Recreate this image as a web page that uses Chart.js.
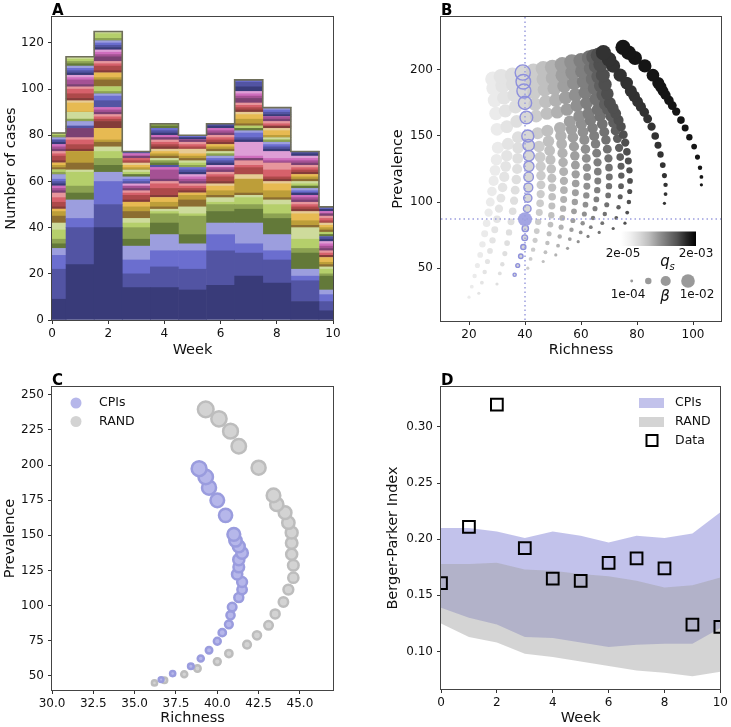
<!DOCTYPE html>
<html>
<head>
<meta charset="utf-8">
<script src="https://cdn.jsdelivr.net/npm/chart.js@4/dist/chart.umd.min.js"></script>
<style>
  body { margin: 0; background: #fff; width: 731px; height: 727px; position: relative; overflow: hidden; }
  canvas { position: absolute; }
</style>
</head>
<body>
<canvas id="cA" width="365" height="363" style="left:0;top:0"></canvas>
<canvas id="cB" width="366" height="363" style="left:365px;top:0"></canvas>
<canvas id="cC" width="365" height="364" style="left:0;top:363px"></canvas>
<canvas id="cD" width="366" height="364" style="left:365px;top:363px"></canvas>
<script>
// ---------- panel A: weekly case counts per species (stacked) ----------
var weeks = [0, 1, 2, 3, 4, 5, 6, 7, 8, 9, 10];
var speciesCounts = [
  [9, 24, 40, 14, 14, 13, 15, 19, 16, 8, 4],
  [13, 16, 10, 6, 9, 9, 15, 10, 10, 9, 4],
  [6, 4, 10, 6, 7, 8, 7, 4, 4, 2, 3],
  [3, 8, 4, 6, 7, 3, 5, 9, 7, 3, 2],
  [2, 3, 3, 3, 5, 4, 5, 6, 7, 7, 6],
  [2, 3, 3, 5, 4, 8, 3, 2, 2, 2, 1],
  [4, 6, 3, 2, 1, 1, 1, 3, 4, 4, 2],
  [3, 1, 2, 2, 1, 3, 2, 1, 2, 5, 1],
  [3, 3, 2, 3, 1, 3, 1, 1, 1, 1, 1],
  [2, 5, 1, 2, 2, 2, 2, 6, 3, 2, 1],
  [1, 0, 5, 2, 2, 1, 2, 0, 3, 3, 2],
  [0, 0, 0, 0, 0, 0, 1, 2, 1, 1, 0],
  [1, 1, 3, 1, 1, 1, 1, 0, 1, 1, 1],
  [2, 2, 1, 2, 3, 1, 2, 3, 1, 1, 0],
  [2, 2, 1, 1, 2, 1, 1, 1, 3, 1, 1],
  [2, 1, 1, 1, 1, 1, 1, 2, 3, 1, 1],
  [1, 4, 1, 1, 1, 1, 1, 1, 0, 1, 1],
  [1, 0, 1, 1, 4, 1, 1, 0, 1, 1, 1],
  [1, 0, 1, 0, 1, 1, 0, 1, 1, 1, 1],
  [0, 0, 0, 1, 0, 1, 1, 6, 3, 0, 1],
  [1, 0, 0, 0, 0, 1, 1, 1, 1, 1, 1],
  [1, 1, 3, 1, 1, 1, 1, 1, 1, 0, 1],
  [1, 0, 2, 1, 0, 1, 1, 2, 1, 1, 0],
  [2, 2, 1, 1, 0, 0, 1, 1, 1, 1, 0],
  [0, 0, 0, 1, 1, 0, 0, 1, 0, 1, 1],
  [1, 1, 1, 0, 1, 1, 1, 0, 1, 0, 0],
  [1, 0, 2, 1, 0, 1, 0, 1, 0, 1, 1],
  [0, 3, 0, 1, 1, 1, 1, 0, 1, 1, 0],
  [1, 0, 3, 0, 1, 1, 1, 1, 0, 1, 1],
  [1, 0, 1, 1, 1, 1, 1, 2, 1, 1, 1],
  [1, 4, 2, 1, 1, 1, 1, 2, 2, 1, 1],
  [0, 1, 0, 1, 1, 2, 0, 1, 1, 0, 1],
  [1, 1, 1, 0, 1, 0, 1, 1, 1, 1, 0],
  [2, 2, 2, 1, 1, 1, 1, 1, 0, 1, 1],
  [1, 2, 1, 1, 1, 1, 1, 1, 1, 1, 1],
  [1, 1, 1, 0, 1, 1, 1, 1, 1, 1, 1],
  [1, 1, 2, 1, 1, 1, 1, 2, 1, 1, 1],
  [1, 2, 1, 0, 0, 0, 1, 1, 1, 1, 0],
  [1, 1, 1, 1, 1, 0, 1, 1, 0, 1, 1],
  [0, 1, 1, 0, 0, 0, 0, 1, 0, 1, 0],
  [1, 1, 1, 0, 1, 1, 1, 2, 1, 1, 1],
  [1, 1, 1, 1, 1, 0, 1, 2, 1, 1, 0],
  [0, 1, 1, 0, 1, 1, 0, 1, 1, 0, 1],
  [1, 1, 1, 0, 0, 0, 0, 0, 1, 0, 0],
  [0, 1, 0, 0, 1, 0, 0, 0, 0, 0, 0],
  [1, 1, 1, 0, 1, 0, 0, 0, 0, 0, 0],
  [1, 1, 2, 0, 0, 0, 0, 0, 0, 0, 0],
  [0, 1, 1, 0, 0, 0, 0, 0, 0, 0, 0]
];
var tab20b = ['#393b79', '#5254a3', '#6b6ecf', '#9c9ede', '#637939', '#8ca252', '#b5cf6b', '#cedb9c',
  '#8c6d31', '#bd9e39', '#e7ba52', '#e7cb94', '#843c39', '#ad494a', '#d6616b', '#e7969c',
  '#7b4173', '#a55194', '#ce6dbd', '#de9ed6'];

// ---------- panel B: model grid, one column per q_s, one point per beta ----------
var qsValues = [4e-5, 4.8e-5, 5.5e-5, 6.6e-5, 8.3e-5, 1.05e-4, 1.32e-4, 1.74e-4, 2.2e-4, 2.9e-4, 3.6e-4, 5e-4, 6.6e-4, 9.5e-4, 1.45e-3];
var betaValues = [1e-4, 1.27e-4, 1.62e-4, 2.07e-4, 2.64e-4, 3.36e-4, 4.28e-4, 5.46e-4, 6.95e-4, 8.86e-4,
  1.13e-3, 1.44e-3, 1.83e-3, 2.34e-3, 2.98e-3, 3.79e-3, 4.83e-3, 6.16e-3, 7.85e-3, 1e-2];
var colPrev = [
  [28, 36, 44, 52, 60, 68, 76, 84, 92, 100, 108, 116, 124, 132, 141, 155, 167, 177, 186, 193],
  [31, 39, 47, 55, 63, 71, 79, 87, 95, 103, 111, 119, 127, 135, 144, 157, 169, 179, 188, 195],
  [38, 46, 53, 61, 69, 77, 85, 93, 101, 109, 117, 125, 133, 141, 149, 161, 172, 181, 189, 196],
  [45, 52, 59, 66, 73, 80, 87, 95, 103, 111, 119, 127, 135, 143, 150, 164, 175, 184, 191, 198],
  [50, 57, 64, 71, 78, 85, 92, 99, 106, 113, 120, 127, 134, 142, 152, 165, 174, 183, 191, 199],
  [55, 62, 69, 76, 83, 90, 97, 104, 111, 118, 125, 132, 139, 146, 154, 167, 176, 185, 193, 201],
  [60, 67, 74, 81, 88, 95, 102, 109, 116, 123, 130, 137, 144, 150, 156, 168, 177, 186, 194, 202],
  [65, 72, 79, 86, 93, 100, 107, 114, 121, 128, 135, 142, 149, 155, 161, 170, 179, 188, 196, 204],
  [70, 77, 84, 91, 98, 105, 112, 119, 126, 133, 140, 147, 153, 159, 165, 173, 181, 190, 198, 206],
  [74, 81, 88, 95, 102, 109, 116, 123, 130, 137, 144, 150, 156, 162, 167, 175, 183, 191, 199, 207],
  [77, 84, 91, 98, 105, 112, 119, 126, 133, 140, 147, 153, 159, 165, 170, 178, 186, 193, 201, 209],
  [80, 88, 96, 104, 112, 120, 127, 134, 141, 148, 154, 160, 165, 170, 174, 181, 188, 195, 203, 210],
  [84, 92, 100, 108, 116, 124, 131, 138, 145, 151, 157, 162, 167, 171, 175, 182, 189, 196, 204, 211],
  [99, 106, 113, 120, 128, 136, 143, 150, 157, 163, 168, 172, 176, 180, 184, 190, 196, 203, 208, 213],
  [113, 119, 126, 134, 142, 149, 156, 162, 168.5, 173, 177, 181, 184, 187, 190, 196, 203, 209, 213, 217]
];
var colRich = [
  [20, 21, 22, 23, 24, 24.8, 25.6, 26.3, 27, 27.6, 28.2, 28.8, 29.3, 29.8, 30.3, 30, 29.6, 29.2, 28.8, 28.5],
  [23.5, 24.6, 25.6, 26.6, 27.5, 28.4, 29.2, 30, 30.7, 31.4, 32, 32.6, 33.1, 33.5, 33.9, 33.5, 33, 32.5, 32, 31.5],
  [30, 31, 31.9, 32.8, 33.6, 34.3, 35, 35.6, 36.1, 36.5, 36.9, 37.2, 37.4, 37.5, 37.5, 37, 36.6, 36.2, 35.8, 35.5],
  [36.3, 37.4, 38.5, 39.4, 39.9, 40.1, 40.2, 40.8, 41, 41.2, 41.3, 41.4, 41.4, 41.3, 41, 40.5, 40, 39.6, 39.4, 39.2],
  [41, 42, 42.9, 43.6, 44.2, 44.7, 45.1, 45.4, 45.6, 45.7, 45.7, 45.6, 45.4, 45, 44.5, 44, 43.6, 43.3, 43, 43],
  [46.5, 47.3, 48, 48.6, 49.1, 49.4, 49.6, 49.7, 49.7, 49.6, 49.4, 49.1, 48.8, 48.4, 48, 47.8, 47.4, 47, 46.7, 46.5],
  [51, 51.8, 52.4, 52.9, 53.3, 53.6, 53.8, 53.9, 53.9, 53.8, 53.6, 53.4, 53.1, 52.8, 52.5, 51.5, 51, 50.5, 50, 49.8],
  [55.2, 56, 56.6, 57.1, 57.5, 57.8, 58, 58.1, 58.1, 58, 57.8, 57.5, 57.1, 56.6, 56, 55, 54.5, 54, 53.5, 53.3],
  [59, 59.9, 60.6, 61.2, 61.6, 61.9, 62.1, 62.2, 62.1, 61.9, 61.6, 61.2, 60.7, 60.1, 59.4, 58.5, 58, 57.5, 57, 56.7],
  [62.5, 63.5, 64.3, 65, 65.5, 65.8, 66, 66, 65.9, 65.6, 65.2, 64.7, 64.1, 63.4, 62.7, 62, 61.5, 61, 60.5, 60],
  [66.5, 67.6, 68.5, 69.2, 69.7, 70, 70.1, 70, 69.8, 69.4, 68.9, 68.3, 67.6, 66.8, 66, 65.3, 64.8, 64.2, 63.6, 63],
  [71.5, 72.6, 73.4, 74, 74.3, 74.4, 74.3, 74, 73.6, 73, 72.3, 71.5, 70.6, 69.6, 68.6, 67.8, 67, 66.2, 65.4, 64.6],
  [75.7, 76.5, 77.1, 77.4, 77.5, 77.3, 76.9, 76.4, 75.8, 75.1, 74.3, 73.4, 72.4, 71.4, 70.3, 69.4, 68.6, 67.8, 67, 66.2],
  [89.8, 90.2, 90.2, 89.8, 89.2, 88.4, 87.5, 86.5, 85.2, 83.8, 82.6, 81.4, 80.2, 79, 77.8, 76.3, 74, 71.5, 70, 68],
  [103, 103, 102.5, 101.6, 100.4, 98.7, 97.2, 95.7, 94, 92.6, 91.4, 90.2, 89.3, 88.5, 87.6, 85.7, 82.8, 79.3, 77, 75]
];
var cpiColumn = 3;
var selRichness = 40;
var selPrevalence = 87;
var legendBeta = [1e-4, 4.6e-4, 2.2e-3, 1e-2];

// ---------- panel C: CPIs vs RAND ----------
var cpiRich = [36.6, 37.3, 38.4, 39.0, 39.5, 40.0, 40.3, 40.7, 40.8, 40.9, 41.3, 41.5, 41.5, 41.2, 41.3, 41.3, 41.5, 41.3, 41.1, 41.0, 40.5, 40.0, 39.5, 39.3, 38.9];
var cpiPrev = [47.4, 51.7, 56.9, 62.4, 68.3, 74.7, 80.8, 86.7, 93.1, 99.0, 105.7, 111.4, 116.8, 122.3, 127.5, 132.7, 137.4, 142.2, 146.4, 150.7, 164.2, 174.9, 183.9, 191.5, 197.4];
var randRich = [36.2, 36.8, 38.0, 38.8, 40.0, 40.7, 41.8, 42.4, 43.1, 43.5, 44.0, 44.3, 44.6, 44.6, 44.5, 44.5, 44.5, 44.3, 44.1, 43.6, 43.4, 42.5, 41.3, 40.8, 40.1, 39.3];
var randPrev = [45.0, 46.9, 51.2, 55.3, 60.2, 65.9, 72.3, 78.9, 86.0, 94.1, 102.6, 111.4, 119.9, 128.7, 136.5, 144.5, 151.9, 159.0, 166.1, 172.0, 178.4, 198.1, 213.3, 224.1, 232.9, 239.6];

// ---------- panel D: Berger-Parker index ----------
var cpiHigh = [0.210, 0.210, 0.207, 0.201, 0.207, 0.203, 0.197, 0.203, 0.201, 0.205, 0.224];
var cpiLow = [0.139, 0.130, 0.124, 0.113, 0.112, 0.108, 0.104, 0.106, 0.107, 0.107, 0.121];
var randHigh = [0.178, 0.178, 0.179, 0.173, 0.172, 0.169, 0.167, 0.163, 0.157, 0.159, 0.166];
var randLow = [0.125, 0.113, 0.108, 0.098, 0.095, 0.091, 0.087, 0.083, 0.081, 0.078, 0.082];
var bpData = [0.161, 0.211, 0.320, 0.192, 0.165, 0.163, 0.179, 0.183, 0.174, 0.124, 0.122];

// ---------- shared look ----------
Chart.defaults.font.family = '"DejaVu Sans", sans-serif';
Chart.defaults.font.size = 12;
Chart.defaults.color = '#111';
Chart.defaults.animation = false;
Chart.defaults.events = [];
Chart.defaults.plugins.legend.display = false;
Chart.defaults.plugins.tooltip.enabled = false;

var CPI_LINE = '#9c9ede';
var FONT = '"DejaVu Sans", sans-serif';

var greysStops = [[0, 255], [0.125, 240], [0.25, 217], [0.375, 189], [0.5, 150], [0.625, 115], [0.75, 82], [0.875, 37], [1, 0]];
function greyAt(t) {
  t = Math.max(0, Math.min(1, t));
  for (var i = 1; i < greysStops.length; i++) {
    var a = greysStops[i - 1], b = greysStops[i];
    if (t <= b[0]) {
      var v = Math.round(a[1] + (b[1] - a[1]) * (t - a[0]) / (b[0] - a[0]));
      return 'rgb(' + v + ',' + v + ',' + v + ')';
    }
  }
  return 'rgb(0,0,0)';
}
function qsPos(q) { return Math.log(q / 2e-5) / Math.log(100); }
function betaRadius(b) { return 1.6 + 3 * (Math.log10(b) + 4); }

// frame on all 4 sides + panel letter
Chart.register({
  id: 'frame',
  afterDatasetsDraw: function (chart, args, opts) {
    var ctx = chart.ctx, a = chart.chartArea;
    ctx.save();
    ctx.strokeStyle = '#444';
    ctx.lineWidth = 1;
    ctx.strokeRect(Math.round(a.left) - 0.5, Math.round(a.top) - 0.5,
      Math.round(a.right - a.left) + 1, Math.round(a.bottom - a.top) + 1);
    ctx.fillStyle = '#000';
    ctx.font = 'bold 15px ' + FONT;
    ctx.textBaseline = 'alphabetic';
    ctx.fillText(opts.letter || '', a.left, a.top - 2);
    ctx.restore();
  }
});

function axis(o) {
  var left = o.pos === 'left';
  return {
    type: 'linear', position: o.pos, min: o.min, max: o.max, offset: false, stacked: !!o.stacked,
    border: { display: false },
    grid: { display: true, drawOnChartArea: false, drawTicks: true, tickLength: 4, color: '#333', offset: false },
    ticks: { padding: left ? 4 : 3, color: '#111', font: { size: 12 }, callback: o.fmt || function (v) { return v; } },
    afterBuildTicks: function (s) { s.ticks = o.ticks.map(function (v) { return { value: v }; }); },
    afterFit: function (s) { if (left) s.width = o.size; else s.height = o.size; },
    title: { display: true, text: o.title, color: '#111', font: { size: 14.5 },
      padding: left ? { top: o.pad, bottom: 0 } : { top: 0, bottom: o.pad } }
  };
}

// ---------- A ----------
var totals = weeks.map(function (w, k) {
  return speciesCounts.reduce(function (s, row) { return s + row[k]; }, 0);
});
var dsA = speciesCounts.map(function (row, i) {
  return {
    type: 'bar', stack: 'cases', order: 1,
    data: row.map(function (v, k) { return { x: weeks[k], y: v }; }),
    backgroundColor: tab20b[i % 20], borderWidth: 0,
    barPercentage: 1, categoryPercentage: 1
  };
});
dsA.push({
  type: 'line', stack: 'outline', order: 0,
  data: totals.map(function (v, k) { return { x: weeks[k], y: v }; }),
  stepped: 'middle', borderColor: '#6e6e5a', borderWidth: 1.6, pointRadius: 0, fill: false
});
new Chart(document.getElementById('cA'), {
  type: 'bar',
  data: { datasets: dsA },
  options: {
    responsive: false,
    layout: { padding: { top: 17, right: 32, left: 0, bottom: 0 } },
    plugins: { frame: { letter: 'A' } },
    scales: {
      x: axis({ pos: 'bottom', min: 0, max: 10, ticks: [0, 2, 4, 6, 8, 10], size: 43, title: 'Week', pad: 4, stacked: true }),
      y: axis({ pos: 'left', min: 0, max: 131.25, ticks: [0, 20, 40, 60, 80, 100, 120], size: 52, title: 'Number of cases', pad: 3, stacked: true })
    }
  }
});

// ---------- B ----------
var dsB = colPrev.map(function (prev, k) {
  return {
    order: 100 - k,
    data: prev.map(function (p, j) { return { x: colRich[k][j], y: p }; }),
    backgroundColor: greyAt(qsPos(qsValues[k])), borderWidth: 0,
    pointRadius: function (c) { return betaRadius(betaValues[c.dataIndex]); }
  };
});
dsB.push({
  order: 2,
  data: colPrev[cpiColumn].map(function (p, j) { return { x: colRich[cpiColumn][j], y: p }; }),
  backgroundColor: 'rgba(0,0,0,0)', borderColor: '#8e90dc', borderWidth: 1.4,
  pointRadius: function (c) { return betaRadius(betaValues[c.dataIndex]); }
});
dsB.push({
  order: 1,
  data: [{ x: selRichness, y: selPrevalence }],
  backgroundColor: '#a3a5e3', borderWidth: 0, pointRadius: 7
});
var bExtras = {
  id: 'bExtras',
  afterDatasetsDraw: function (chart) {
    var ctx = chart.ctx, a = chart.chartArea, sx = chart.scales.x, sy = chart.scales.y;
    ctx.save();
    // crosshair on the chosen parameter pair
    ctx.strokeStyle = CPI_LINE;
    ctx.lineWidth = 1.5;
    ctx.setLineDash([1.5, 3]);
    var px = Math.round(sx.getPixelForValue(selRichness)), py = Math.round(sy.getPixelForValue(selPrevalence));
    ctx.beginPath();
    ctx.moveTo(px, a.top); ctx.lineTo(px, a.bottom);
    ctx.moveTo(a.left, py); ctx.lineTo(a.right, py);
    ctx.stroke();
    ctx.setLineDash([]);
    // colour bar for q_s
    var x0 = a.left + 180, x1 = a.left + 255, y0 = a.top + 214.5;
    var g = ctx.createLinearGradient(x0, 0, x1, 0);
    greysStops.forEach(function (s) { g.addColorStop(s[0], 'rgb(' + s[1] + ',' + s[1] + ',' + s[1] + ')'); });
    ctx.fillStyle = g;
    ctx.fillRect(x0, y0, x1 - x0, 14.5);
    ctx.fillStyle = '#111';
    ctx.font = '12px ' + FONT;
    ctx.textAlign = 'center';
    ctx.textBaseline = 'middle';
    ctx.fillText('2e-05', a.left + 182, a.top + 237);
    ctx.fillText('2e-03', a.left + 255, a.top + 237);
    ctx.font = 'italic 15px ' + FONT;
    ctx.fillText('q', a.left + 224, a.top + 245);
    ctx.font = 'italic 10px ' + FONT;
    ctx.fillText('s', a.left + 231, a.top + 250);
    // size key for beta
    var dotX = [190.7, 207.3, 224.7, 247];
    ctx.fillStyle = '#999';
    legendBeta.forEach(function (b, i) {
      ctx.beginPath();
      ctx.arc(a.left + dotX[i], a.top + 264, betaRadius(b) * 0.9, 0, Math.PI * 2);
      ctx.fill();
    });
    ctx.fillStyle = '#111';
    ctx.font = '12px ' + FONT;
    ctx.fillText('1e-04', a.left + 187, a.top + 278);
    ctx.fillText('1e-02', a.left + 256, a.top + 278);
    ctx.font = 'italic 15px ' + FONT;
    ctx.fillText('\u03b2', a.left + 224, a.top + 280);
    ctx.restore();
  }
};
new Chart(document.getElementById('cB'), {
  type: 'scatter',
  data: { datasets: dsB },
  plugins: [bExtras],
  options: {
    responsive: false,
    layout: { padding: { top: 17, right: 10, left: 0, bottom: 0 } },
    plugins: { frame: { letter: 'B' } },
    scales: {
      x: axis({ pos: 'bottom', min: 10, max: 110, ticks: [20, 40, 60, 80, 100], size: 42, title: 'Richness', pad: 3.6 }),
      y: axis({ pos: 'left', min: 10, max: 240, ticks: [50, 100, 150, 200], size: 76, title: 'Prevalence', pad: 25 })
    }
  }
});

// ---------- C ----------
var CPI_FILL = '#b6b7ea', CPI_EDGE = '#9a9cde', RAND_FILL = '#d3d3d3', RAND_EDGE = '#bdbdbd';
var cLegend = {
  id: 'cLegend',
  afterDatasetsDraw: function (chart) {
    var ctx = chart.ctx, a = chart.chartArea;
    ctx.save();
    [['CPIs', CPI_FILL, 16], ['RAND', RAND_FILL, 34.5]].forEach(function (e) {
      ctx.fillStyle = e[1];
      ctx.beginPath();
      ctx.arc(a.left + 24, a.top + e[2], 5.5, 0, Math.PI * 2);
      ctx.fill();
      ctx.fillStyle = '#111';
      ctx.font = '12.5px ' + FONT;
      ctx.textBaseline = 'middle';
      ctx.fillText(e[0], a.left + 47, a.top + e[2]);
    });
    ctx.restore();
  }
};
new Chart(document.getElementById('cC'), {
  type: 'scatter',
  data: {
    datasets: [
      { order: 2, data: randRich.map(function (r, i) { return { x: r, y: randPrev[i] }; }),
        backgroundColor: RAND_FILL, borderColor: RAND_EDGE, borderWidth: 2.5,
        pointRadius: function (c) { return 2.6 + 0.21 * c.dataIndex; } },
      { order: 1, data: cpiRich.map(function (r, i) { return { x: r, y: cpiPrev[i] }; }),
        backgroundColor: CPI_FILL, borderColor: CPI_EDGE, borderWidth: 2.5,
        pointRadius: function (c) { return 2.4 + 0.21 * c.dataIndex; } }
    ]
  },
  plugins: [cLegend],
  options: {
    responsive: false,
    layout: { padding: { top: 24, right: 32, left: 0, bottom: 0 } },
    plugins: { frame: { letter: 'C' } },
    scales: {
      x: axis({ pos: 'bottom', min: 30, max: 47, ticks: [30, 32.5, 35, 37.5, 40, 42.5, 45], size: 37, title: 'Richness', pad: 0,
        fmt: function (v) { return v.toFixed(1); } }),
      y: axis({ pos: 'left', min: 40, max: 255.5, ticks: [50, 75, 100, 125, 150, 175, 200, 225, 250], size: 52, title: 'Prevalence', pad: 2 })
    }
  }
});

// ---------- D ----------
var CPI_BAND = 'rgba(120,120,210,0.45)', RAND_BAND = 'rgba(160,160,160,0.45)';
function pts(arr) { return arr.map(function (v, k) { return { x: weeks[k], y: v }; }); }
var dLegend = {
  id: 'dLegend',
  afterDatasetsDraw: function (chart) {
    var ctx = chart.ctx, a = chart.chartArea;
    ctx.save();
    ctx.fillStyle = CPI_BAND;
    ctx.fillRect(a.left + 198, a.top + 11, 25, 10);
    ctx.fillStyle = RAND_BAND;
    ctx.fillRect(a.left + 198, a.top + 30, 25, 10);
    ctx.strokeStyle = '#000';
    ctx.lineWidth = 2;
    ctx.strokeRect(a.left + 205.5, a.top + 48, 11, 11);
    ctx.fillStyle = '#111';
    ctx.font = '12.5px ' + FONT;
    ctx.textBaseline = 'middle';
    ctx.fillText('CPIs', a.left + 234, a.top + 16);
    ctx.fillText('RAND', a.left + 234, a.top + 35);
    ctx.fillText('Data', a.left + 234, a.top + 53.5);
    ctx.restore();
  }
};
new Chart(document.getElementById('cD'), {
  type: 'line',
  data: {
    datasets: [
      // grey RAND band drawn over the CPI band
      { order: 3, data: pts(randLow), borderWidth: 0, pointRadius: 0, fill: false, tension: 0 },
      { order: 2, data: pts(randHigh), borderWidth: 0, pointRadius: 0, fill: '-1', backgroundColor: RAND_BAND, tension: 0 },
      { order: 5, data: pts(cpiLow), borderWidth: 0, pointRadius: 0, fill: false, tension: 0 },
      { order: 4, data: pts(cpiHigh), borderWidth: 0, pointRadius: 0, fill: '-1', backgroundColor: CPI_BAND, tension: 0 },
      { order: 0, type: 'scatter', data: pts(bpData), showLine: false, clip: 0,
        pointStyle: 'rect', pointRadius: 8.3, borderColor: '#000', borderWidth: 2, backgroundColor: 'rgba(0,0,0,0)' }
    ]
  },
  plugins: [dLegend],
  options: {
    responsive: false,
    layout: { padding: { top: 24, right: 10, left: 0, bottom: 0 } },
    plugins: { frame: { letter: 'D' } },
    scales: {
      x: axis({ pos: 'bottom', min: 0, max: 10, ticks: [0, 2, 4, 6, 8, 10], size: 38, title: 'Week', pad: 0 }),
      y: axis({ pos: 'left', min: 0.0666, max: 0.3356, ticks: [0.10, 0.15, 0.20, 0.25, 0.30], size: 76, title: 'Berger-Parker Index', pad: 19.5,
        fmt: function (v) { return v.toFixed(2); } })
    }
  }
});
</script>
</body>
</html>
